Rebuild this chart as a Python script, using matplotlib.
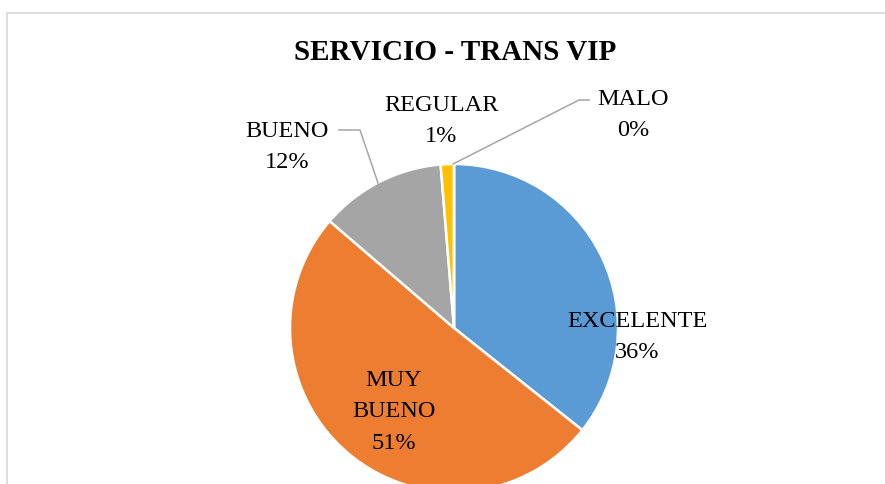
import matplotlib.pyplot as plt
from matplotlib.lines import Line2D

# data (percent of answers)
categories = ["EXCELENTE", "MUY\nBUENO", "BUENO", "REGULAR", "MALO"]
shares = [35.7, 50.6, 12.4, 1.3, 0.0]
pct_labels = ["36%", "51%", "12%", "1%", "0%"]
colors = ["#5B9BD5", "#ED7D31", "#A5A5A5", "#FFC000", "#4472C4"]

W, H = 885, 485
plt.rcParams["font.family"] = ["Liberation Serif", "DejaVu Serif"]

fig = plt.figure(figsize=(W / 100, H / 100), dpi=100)
ax = fig.add_axes([0, 0, 1, 1])

# chart area border (only top and left are visible, the rest is cropped)
border = "#D9D9D9"
ax.add_line(Line2D([6.5, W], [H - 13.5, H - 13.5], color=border, lw=1.2))
ax.add_line(Line2D([6.5, 6.5], [0, H - 13.5], color=border, lw=1.2))

cx, cy, r = 454, H - 329, 164
ax.pie(shares, colors=colors, startangle=90, counterclock=False,
       center=(cx, cy), radius=r, frame=True,
       wedgeprops=dict(edgecolor="white", linewidth=1.8))
ax.set_xlim(0, W)
ax.set_ylim(0, H)
ax.set_aspect("equal")
ax.axis("off")

ax.text(455, H - 52, "SERVICIO - TRANS VIP", ha="center", va="center",
        fontsize=21, fontweight="bold")

# label anchors in pixels from the top-left
label_pos = [(637, 337), (394, 412), (287, 147), (441, 121), (633, 115)]
for cat, pct, (x, y) in zip(categories, pct_labels, label_pos):
    ax.text(x, H - y, f"{cat}\n{pct}", ha="center", va="center",
            fontsize=17.5, linespacing=1.65)

# leader lines
lead = "#A6A6A6"
ax.add_line(Line2D([339, 360, 378], [H - 131, H - 131, H - 184], color=lead, lw=1.1))
ax.add_line(Line2D([589, 579, 453], [H - 101, H - 101, H - 165], color=lead, lw=1.1))

fig.savefig("out.png", dpi=100)
